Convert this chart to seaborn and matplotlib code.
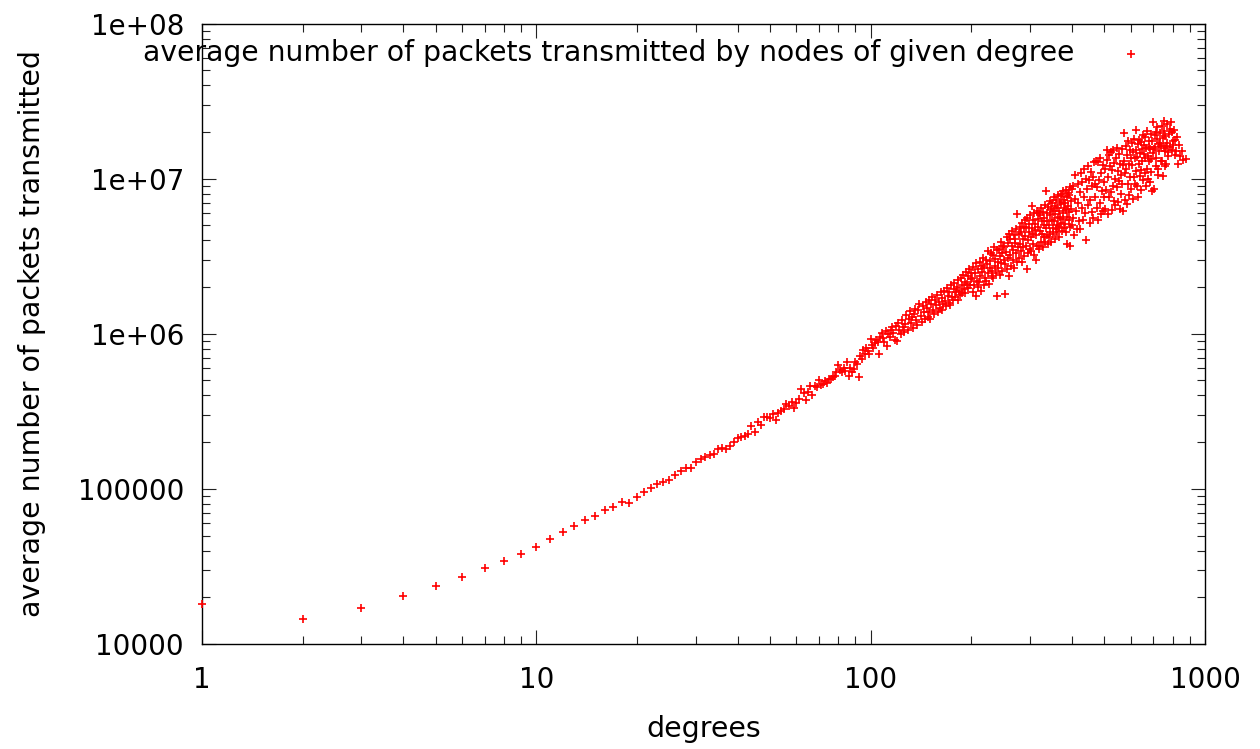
import matplotlib
matplotlib.use("Agg")
import matplotlib.pyplot as plt
from matplotlib.ticker import FixedLocator, FixedFormatter, LogLocator, NullFormatter
import numpy as np
import pandas as pd
import seaborn as sns

# Average packets transmitted (in thousands) for node degrees 1..86
low_degree_vals = [
    18.1, 14.4, 17.1, 20.4, 23.8, 27.0, 30.8, 34.2, 38.1, 42.5,
    47.3, 52.6, 57.8, 63.1, 66.7, 73.2, 76.6, 82.5, 81.2, 88.4,
    95.2, 101.5, 107.2, 111.0, 113.8, 123.7, 130.1, 136.6, 136.6, 150.1,
    156.8, 160.9, 165.8, 168.9, 181.2, 184.7, 181.2, 189.4, 201.8, 214.2,
    217.5, 218.8, 226.3, 256.0, 233.2, 269.4, 258.6, 292.5, 292.5, 285.8,
    303.4, 278.4, 310.6, 315.4, 326.6, 353.2, 343.0, 365.3, 331.4, 358.7,
    380.8, 439.7, 412.0, 371.5, 422.6, 462.1, 403.8, 462.1, 455.0, 504.7,
    469.0, 473.3, 497.3, 483.0, 512.6, 512.6, 528.2, 530.6, 569.3, 631.0,
    586.5, 569.3, 604.0, 577.4, 662.3, 536.0,
]

# Degrees 87..200 (thousands of packets)
mid_degree_vals = [
    601, 571, 597, 662, 640, 526, 714, 690, 789, 745,
    813, 770, 740, 925, 850, 810, 871, 905, 880, 740,
    960, 1012, 934, 880, 1040, 828, 1000, 950, 1060, 1099,
    1010, 914, 1120, 900, 1180, 1060, 990, 1220, 1100, 1030,
    1150, 1320, 1050, 1240, 1400, 1180, 1290, 1090, 1350, 1450,
    1230, 1140, 1420, 1545, 1300, 1190, 1520, 1380, 1250, 1600,
    1470, 1290, 1660, 1380, 1250, 1550, 1720, 1430, 1340, 1640,
    1530, 1780, 1380, 1600, 1470, 1850, 1700, 1420, 1560, 1900,
    1620, 1520, 1980, 1750, 1580, 1870, 1530, 2050, 1720, 1640,
    1950, 2120, 1720, 1860, 2000, 1650, 2220, 1900, 1780, 2300,
    2050, 1820, 2400, 1950, 2150, 1830, 2500, 2100, 1960, 2350,
    2600, 2050, 2250, 2450,
]

# Degrees 201..400 (thousands of packets)
upper_degree_vals = [
    2300, 1850, 2700, 2050, 2450, 1750, 2850, 2200, 2000, 2600,
    2150, 2900, 2350, 1900, 2750, 2500, 3100, 2050, 2650, 2300,
    3000, 2200, 2800, 3400, 2450, 2100, 2950, 2650, 3300, 2350,
    2550, 3200, 2300, 3650, 2750, 3050, 2450, 1740, 3450, 2900,
    2650, 3500, 3150, 2400, 3900, 2850, 3300, 2550, 3700, 3000,
    3600, 2800, 1810, 3350, 4200, 2600, 3850, 3100, 4400, 2340,
    3200, 4100, 2750, 3700, 4600, 3000, 3450, 2650, 4300, 3850,
    4100, 3300, 4700, 5940, 2900, 3600, 4400, 3100, 4900, 3800,
    3400, 4500, 2900, 5200, 4100, 3600, 4800, 3150, 5400, 4250,
    3700, 4900, 2610, 5600, 4000, 3300, 5100, 4500, 3500, 5800,
    4200, 3400, 6620, 4800, 3800, 5400, 4400, 3200, 6000, 4650,
    5100, 3000, 4300, 6200, 3700, 5500, 4900, 3500, 3700, 6000,
    4600, 5800, 3900, 6500, 4400, 5300, 3600, 6100, 5000, 4200,
    5600, 3900, 6800, 4800, 8300, 4300, 6000, 5300, 3800, 6600,
    5000, 4200, 7200, 5800, 4500, 6400, 3900, 5400, 7000, 4800,
    6200, 4400, 7600, 5300, 4100, 6700, 5900, 4700, 7300, 5000,
    4500, 6500, 5600, 7900, 4900, 6200, 4200, 7100, 5700, 8000,
    5200, 6900, 4600, 7700, 6000, 8300, 5500, 4800, 7300, 6500,
    7000, 5100, 8500, 4500, 6300, 7600, 5700, 3800, 8100, 6700,
    5400, 7900, 6100, 3660, 8800, 4900, 7200, 6400, 5000, 8600,
]

# Even degrees 402..700 (thousands of packets)
hub_degree_vals = [
    5600, 8900, 4300, 7400, 10500, 6200, 4700, 9300, 7000, 5300,
    8200, 4700, 10800, 6500, 9500, 5400, 11500, 7600, 6000, 9900,
    4040, 8600, 12000, 6800, 9800, 5200, 7300, 11000, 8900, 6100,
    10200, 5600, 12800, 7600, 9200, 13000, 6500, 8800, 5400, 12800,
    9800, 7000, 13600, 5900, 10800, 8300, 12200, 6200, 9500, 7600,
    11500, 6400, 8500, 13200, 15200, 5900, 10200, 14300, 7600, 12000,
    8200, 14800, 6300, 11400, 9000, 15300, 7200, 12600, 10000, 6800,
    13500, 8800, 15800, 7100, 11200, 9600, 14400, 6400, 12400, 10500,
    8000, 15500, 9300, 12200, 6150, 13000, 19700, 10800, 7300, 16200,
    11600, 6870, 14200, 9200, 17400, 12400, 7800, 15300, 10200, 13500,
    8600, 16900, 12200, 7400, 14900, 10300, 18000, 9300, 13600, 11200,
    15300, 20700, 9000, 13800, 16800, 7600, 12500, 17800, 10400, 14600,
    17100, 11300, 8400, 15600, 13000, 19000, 9800, 14400, 16400, 10800,
    13600, 18600, 8900, 15800, 11500, 20400, 14000, 10000, 17400, 12900,
    16000, 9500, 15600, 13300, 19300, 11000, 17600, 8300, 14600, 23100,
]

# Highest-degree nodes: (degree, thousands of packets)
top_degree_pairs = [
    (703, 15500), (705, 8600), (707, 19000), (709, 16000), (712, 20100), (714, 12000),
    (716, 13500), (718, 21500), (720, 18000), (723, 10500), (725, 11500), (727, 16800),
    (730, 15000), (733, 19800), (735, 17000), (738, 13000), (741, 16300), (743, 22000),
    (745, 13000), (748, 18400), (750, 10400), (752, 15800), (754, 23700), (756, 20300),
    (758, 15000), (760, 12000), (762, 18700), (765, 16200), (767, 12500), (770, 22600),
    (772, 17000), (775, 14800), (778, 14000), (781, 19500), (785, 16000), (788, 21000),
    (792, 23100), (795, 15200), (799, 19900), (802, 17500), (805, 16500), (808, 20500),
    (812, 14300), (816, 17800), (820, 15000), (825, 18500), (830, 12500), (838, 16500),
    (845, 14000), (853, 15000), (861, 13100), (876, 13300),
]

legend_label = "average number of packets transmitted by nodes of given degree"
x_label = "degrees"
y_label = "average number of packets transmitted"
x_tick_values = [1, 10, 100, 1000]
x_tick_labels = ["1", "10", "100", "1000"]
y_tick_values = [1e4, 1e5, 1e6, 1e7, 1e8]
y_tick_labels = ["10000", "100000", "1e+06", "1e+07", "1e+08"]

degrees = (list(range(1, 87)) + list(range(87, 201)) + list(range(201, 401))
           + list(range(402, 701, 2)) + [d for d, _ in top_degree_pairs])
packets_k = (low_degree_vals + mid_degree_vals + upper_degree_vals
             + hub_degree_vals + [v for _, v in top_degree_pairs])
df = pd.DataFrame({"degree": degrees, "packets": np.array(packets_k) * 1000.0})

sns.set_style("ticks")
plt.rcParams["font.family"] = ["DejaVu Sans"]
for key in ("text.color", "axes.labelcolor", "xtick.color", "ytick.color"):
    plt.rcParams[key] = "black"

fig = plt.figure(figsize=(12.6, 7.49), dpi=100)
ax = fig.add_axes([0.1603, 0.1402, 0.7960, 0.8284])

sns.scatterplot(data=df, x="degree", y="packets", marker="+", color="#ff0000",
                s=30, linewidth=1.2, ax=ax, label=legend_label, clip_on=False, zorder=3)

ax.set_xscale("log")
ax.set_yscale("log")
ax.set_xlim(1, 1000)
ax.set_ylim(1e4, 1e8)

ax.xaxis.set_major_locator(FixedLocator(x_tick_values))
ax.xaxis.set_major_formatter(FixedFormatter(x_tick_labels))
ax.yaxis.set_major_locator(FixedLocator(y_tick_values))
ax.yaxis.set_major_formatter(FixedFormatter(y_tick_labels))
ax.xaxis.set_minor_locator(LogLocator(base=10, subs=np.arange(2, 10)))
ax.yaxis.set_minor_locator(LogLocator(base=10, subs=np.arange(2, 10)))
ax.xaxis.set_minor_formatter(NullFormatter())
ax.yaxis.set_minor_formatter(NullFormatter())

ax.tick_params(which="both", direction="in", top=True, right=True,
               color="#222222", width=0.8, labelsize=20)
ax.tick_params(axis="x", which="both", pad=16)
ax.tick_params(axis="y", which="both", pad=13)
ax.tick_params(which="major", length=10)
ax.tick_params(which="minor", length=5.5)
for sp in ax.spines.values():
    sp.set_linewidth(1.0)
    sp.set_color("black")

ax.set_xlabel(x_label, fontsize=20.4, labelpad=15)
ax.set_ylabel(y_label, fontsize=20.4, labelpad=23)

ax.legend(loc="center right", bbox_to_anchor=(0.954, 0.9525), frameon=False,
          markerfirst=False, fontsize=20.3, handlelength=2.0, handletextpad=1.0,
          borderpad=0, borderaxespad=0, markerscale=1.0)

fig.savefig("out.png", dpi=100, facecolor="white")
